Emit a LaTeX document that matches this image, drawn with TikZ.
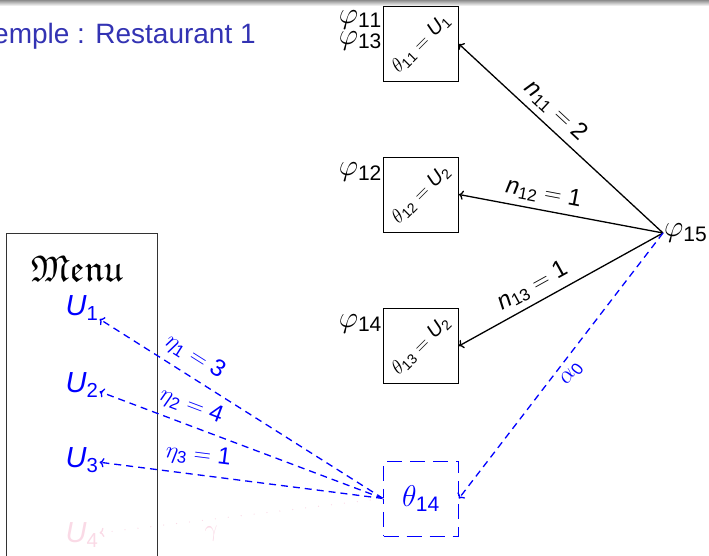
\RequirePackage{fix-cm}
\documentclass[tikz,border=0pt]{standalone}
\usepackage{amsmath,amssymb}
\usepackage{fontspec}
\setmainfont{Liberation Sans}
\newfontfamily\libsans{Liberation Sans}[NFSSFamily=libsans]
\DeclareSymbolFont{sfdig}{TU}{libsans}{m}{n}
\AtBeginDocument{%
  \mathcode`0=\numexpr"7030+\symsfdig*256\relax
  \mathcode`1=\numexpr"7031+\symsfdig*256\relax
  \mathcode`2=\numexpr"7032+\symsfdig*256\relax
  \mathcode`3=\numexpr"7033+\symsfdig*256\relax
  \mathcode`4=\numexpr"7034+\symsfdig*256\relax
  \mathcode`5=\numexpr"7035+\symsfdig*256\relax
  \mathcode`6=\numexpr"7036+\symsfdig*256\relax
  \mathcode`7=\numexpr"7037+\symsfdig*256\relax
  \mathcode`8=\numexpr"7038+\symsfdig*256\relax
  \mathcode`9=\numexpr"7039+\symsfdig*256\relax}
\usetikzlibrary{arrows.meta,positioning,calc}
\definecolor{titleblue}{RGB}{51,51,179}
\definecolor{pale}{RGB}{250,218,230}

\begin{document}
\begin{tikzpicture}[x=1pt,y=1pt,
  dish/.style={draw,line width=.8pt,minimum size=75pt,inner sep=0pt},
  philab/.style={font=\fontsize{30}{21}\selectfont,inner sep=1pt,align=right},
  ulab/.style={text=blue,font=\fontsize{29}{31}\selectfont,inner sep=1pt},
  count/.style={->,line width=1.3pt},
  pick/.style={->,blue,line width=1.3pt,dash pattern=on 7pt off 5pt},
  edgelab/.style={font=\fontsize{24}{26}\selectfont,sloped,inner sep=6pt}]
\useasboundingbox (0,0) rectangle (709,556);
\clip (0,0) rectangle (709,556);
\shade[top color=black!45,bottom color=white] (0,550) rectangle (709,556);
\node[anchor=base west,text=titleblue,font=\fontsize{28}{32}\selectfont,inner sep=0pt] (title) at (-7,512) {emple : Restaurant 1};

% tables of the restaurant
\node[dish] (boxa) at (421,512) {\rotatebox{45}{\fontsize{20}{21}\selectfont$\theta_{11}=\mathit{U}_1$}};
\node[dish] (boxb) at (421,361.5) {\rotatebox{45}{\fontsize{20}{21}\selectfont$\theta_{12}=\mathit{U}_2$}};
\node[dish] (boxc) at (421,210) {\rotatebox{45}{\fontsize{20}{21}\selectfont$\theta_{13}=\mathit{U}_2$}};
\node[dish,draw=blue,line width=.8pt,dash pattern=on 15pt off 8pt,text=blue,font=\fontsize{30}{32}\selectfont] (boxd) at (421,57.5) {$\theta_{14}$};
\node[philab,anchor=north east] (phia) at ([yshift=-3pt]boxa.north west) {$\varphi_{11}$\\$\varphi_{13}$};
\node[philab,anchor=north east] (phib) at ([yshift=-5pt]boxb.north west) {$\varphi_{12}$};
\node[philab,anchor=north east] (phic) at ([yshift=-5pt]boxc.north west) {$\varphi_{14}$};
\coordinate (cust) at (663,323);
\node[philab,anchor=west] (phid) at (cust) {$\varphi_{15}$};

% menu
\draw[line width=.8pt,black!80] (6,323) rectangle (157,-10);
\node[font=\fontsize{37}{40}\selectfont] (menu) at (77,287) {$\mathfrak{Menu}$};
\node[ulab] (u1) at (82,248) {$\mathit{U}_1$};
\node[ulab] (u2) at (82,171) {$\mathit{U}_2$};
\node[ulab] (u3) at (82,96) {$\mathit{U}_3$};
\node[ulab,text=pale] (u4) at (82,21) {$\mathit{U}_4$};

\draw[count] (cust) -- node[edgelab,above,pos=.58] {$\mathit{n}_{11}=2$} (boxa.east);
\draw[count] (cust) -- node[edgelab,above,pos=.6] {$\mathit{n}_{12}=1$} (boxb.east);
\draw[count] (cust) -- node[edgelab,above,pos=.6] {$\mathit{n}_{13}=1$} (boxc.east);
\draw[pick] (cust) -- node[edgelab,below,text=blue] {$\alpha_0$} (boxd.east);

\draw[pick] (boxd.west) -- node[edgelab,above,pos=.7,text=blue,inner sep=8pt] {$\eta_1=3$} (u1);
\draw[pick] (boxd.west) -- node[edgelab,above,pos=.7,text=blue,inner sep=8pt] {$\eta_2=4$} (u2);
\draw[pick] (boxd.west) -- node[edgelab,above,pos=.66,text=blue,inner sep=8pt] {$\eta_3=1$} (u3);
\draw[->,pale,line width=1.3pt,line cap=round,dash pattern=on 0pt off 13pt] (boxd.west) -- node[edgelab,below,pos=.61,text=pale] {$\gamma$} (u4);
\end{tikzpicture}
\end{document}
